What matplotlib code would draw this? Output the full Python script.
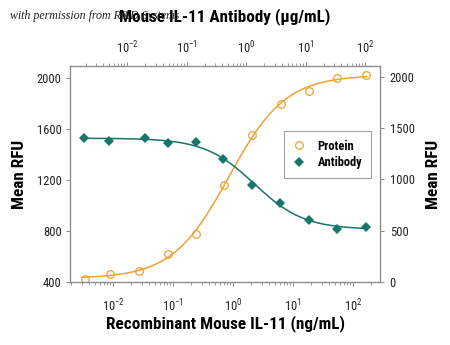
import numpy as np
import matplotlib
matplotlib.use('Agg')
from matplotlib import pyplot as plt
from matplotlib import font_manager
from matplotlib.ticker import LogLocator, NullFormatter

# look for a narrow sans face, the reference uses a condensed font
names = {(f.name, f.stretch) for f in font_manager.fontManager.ttflist}
narrow = None
stretch = 'normal'
for cand in ['Liberation Sans Narrow', 'Roboto Condensed', 'Open Sans Condensed', 'DejaVu Sans Condensed']:
    if any(n == cand for n, _ in names):
        narrow = cand
        break
if narrow is None:
    for n, st in names:
        if 'condensed' in str(st) and n in ('DejaVu Sans', 'Open Sans', 'Roboto', 'Noto Sans'):
            narrow, stretch = n, 'condensed'
            break
if narrow is None:
    narrow = 'DejaVu Sans'

plt.rcParams['font.family'] = [narrow, 'DejaVu Sans']
plt.rcParams['font.stretch'] = stretch
plt.rcParams['mathtext.fontset'] = 'custom'
plt.rcParams['mathtext.rm'] = narrow

# data
protein_conc = [0.00341, 0.00881, 0.0274, 0.0826, 0.2415, 0.708, 2.10, 6.31, 18.5, 54.7, 163]
protein_rfu = [421, 465, 486, 622, 779, 1158, 1553, 1794, 1898, 2000, 2018]
antibody_conc = [0.00191, 0.0050, 0.020, 0.049, 0.141, 0.407, 1.26, 3.72, 11.2, 33.9, 102]
antibody_rfu = [1409, 1375, 1402, 1356, 1366, 1203, 951, 775, 605, 513, 539]

left_ticks = [400, 800, 1200, 1600, 2000]
right_ticks = [0, 500, 1000, 1500, 2000]

orange = '#EDA232'
teal = '#17756A'
grey = '#8a8a8a'


def fit4pl(x, y):
    # 4 parameter logistic, grid over ec50/hill, linear solve for bottom/top
    lx = np.log10(x)
    y = np.asarray(y, float)
    best = None
    for c in np.linspace(lx.min(), lx.max(), 241):
        for h in np.linspace(0.3, 3.0, 136):
            s = 1.0 / (1.0 + 10 ** ((c - lx) * h))
            A = np.column_stack([1 - s, s])
            coef = np.linalg.lstsq(A, y, rcond=None)[0]
            err = np.sum((A @ coef - y) ** 2)
            if best is None or err < best[0]:
                best = (err, c, h, coef)
    _, c, h, coef = best

    def f(xx):
        s = 1.0 / (1.0 + 10 ** ((c - np.log10(xx)) * h))
        return coef[0] * (1 - s) + coef[1] * s
    return f


fig = plt.figure(figsize=(4.5, 3.45), dpi=100)
ax = fig.add_axes([0.1556, 0.1826, 0.6888, 0.6261])
ax2 = ax.twinx()
ax3 = ax2.twiny()

ax.set_xscale('log')
ax3.set_xscale('log')
ax.set_xlim(10 ** -2.717, 10 ** 2.45)
ax3.set_xlim(10 ** -2.96, 10 ** 2.25)
ax.set_ylim(400, 2090)
ax2.set_ylim(0, 2107)

# protein on bottom / left
fp = fit4pl(protein_conc, protein_rfu)
xs = np.logspace(np.log10(protein_conc[0]) - 0.05, np.log10(protein_conc[-1]) + 0.02, 300)
ax.plot(xs, fp(xs), color=orange, lw=1.1, zorder=2)
ax.plot(protein_conc, protein_rfu, 'o', mfc='none', mec=orange, ms=5.5, mew=0.9, zorder=3)

# antibody on top / right
fa = fit4pl(antibody_conc, antibody_rfu)
xs = np.logspace(np.log10(antibody_conc[0]) - 0.05, np.log10(antibody_conc[-1]) + 0.02, 300)
ax3.plot(xs, fa(xs), color=teal, lw=1.1, zorder=2)
ax3.plot(antibody_conc, antibody_rfu, 'D', color=teal, ms=5, mew=0, zorder=3)

for a in (ax, ax2, ax3):
    for s in a.spines.values():
        s.set_color(grey)
        s.set_linewidth(0.8)

ax.set_yticks(left_ticks)
ax2.set_yticks(right_ticks)
for a in (ax, ax3):
    a.xaxis.set_major_locator(LogLocator(base=10, numticks=10))
    a.xaxis.set_minor_locator(LogLocator(base=10, subs=np.arange(2, 10), numticks=20))
    a.xaxis.set_minor_formatter(NullFormatter())

tick_size = 9
ax.tick_params(axis='both', which='major', direction='out', length=3, width=0.7,
               color=grey, labelsize=tick_size, labelcolor='#222222', pad=3)
ax.tick_params(axis='x', which='minor', direction='out', length=2, width=0.6, color=grey)
ax.tick_params(axis='x', which='major', pad=8)
ax2.tick_params(axis='y', direction='out', length=3, width=0.7, color=grey,
                labelsize=tick_size, labelcolor='#222222', pad=4)
ax3.tick_params(axis='x', which='major', direction='out', length=3, width=0.7,
                color=grey, labelsize=tick_size, labelcolor='#222222', pad=4)
ax3.tick_params(axis='x', which='minor', direction='out', length=2, width=0.6, color=grey)

lab = dict(fontsize=12.3, fontweight='bold')
ax.set_xlabel('Recombinant Mouse IL-11 (ng/mL)', labelpad=1, **lab)
ax.set_ylabel('Mean RFU', labelpad=7, **lab)
ax2.set_ylabel('Mean RFU', labelpad=8, **lab)
ax3.set_xlabel('Mouse IL-11 Antibody (\u03bcg/mL)', labelpad=13.5, **lab)

h1 = ax.lines[1]
h2 = ax3.lines[1]
leg = ax3.legend([h1, h2], ['Protein', 'Antibody'], loc='upper left',
                 bbox_to_anchor=(0.69, 0.70), fancybox=False,
                 prop={'family': [narrow, 'DejaVu Sans'], 'stretch': stretch,
                       'weight': 'bold', 'size': 9},
                 handlelength=1.0, handletextpad=1.0, borderpad=0.7,
                 labelspacing=0.3, borderaxespad=0)
leg.get_frame().set_edgecolor(grey)
leg.get_frame().set_linewidth(0.8)

fig.text(0.022, 0.945, 'with permission from R&D Systems', fontsize=8.6,
         style='italic', family=['Liberation Serif', 'DejaVu Serif'], color='#222222')

fig.savefig('out.png', dpi=100)
